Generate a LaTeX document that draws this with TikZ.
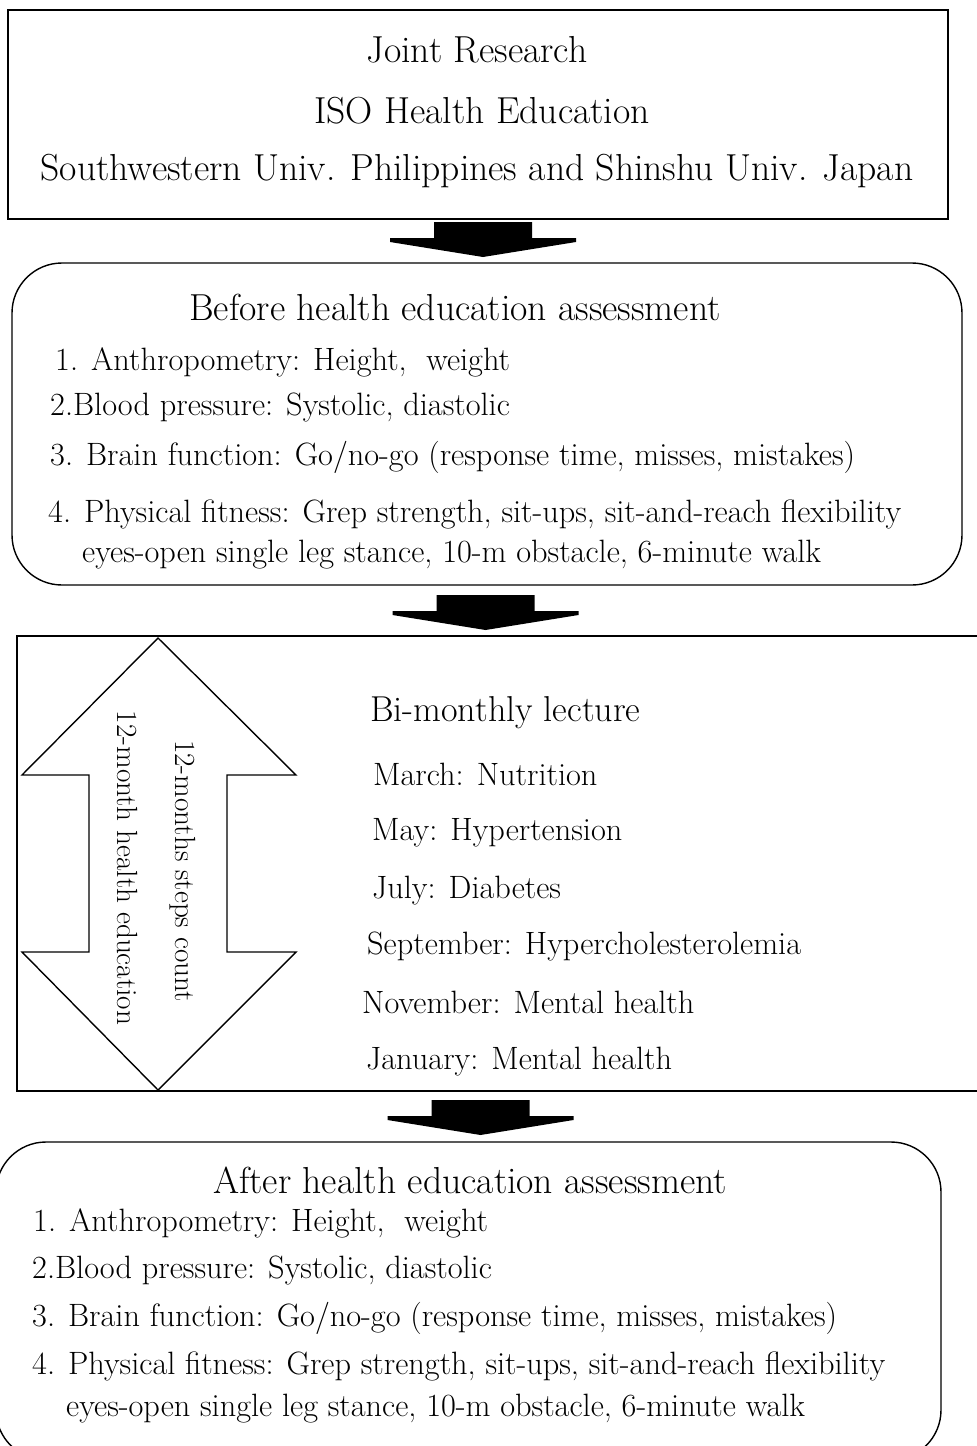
\documentclass[tikz,border=0pt]{standalone}
\newcommand{\blockdown}[1]{\fill[shift={#1}] (-49,0) -- (49,0) -- (49,16) -- (93,16) -- (93,20) -- (0,35) -- (-93,20) -- (-93,16) -- (-49,16) -- cycle;}
\begin{document}
\begin{tikzpicture}[x=1pt, y=-1pt,
          titlebox/.style={draw, line width=1.4pt, inner sep=0pt, minimum width=940pt, minimum height=209pt},
          roundbox/.style={draw, line width=1.4pt, inner sep=0pt, rounded corners=50pt},
          big/.style={inner sep=0pt, font=\fontsize{37.6}{44}\selectfont},
          item/.style={anchor=west, inner sep=0pt, font=\fontsize{32.3}{38}\selectfont},
          sidetext/.style={inner sep=0pt, rotate=-90, font=\fontsize{29.2}{34}\selectfont}]
        \useasboundingbox (0,0) rectangle (977,1446);
        % project box
        \node[titlebox] (project) at (478,114.5) {};
        \node[big] (joint) at (477,50) {Joint Research};
        \node[big] (iso) at (482,111) {ISO Health Education};
        \node[big] (univ) at (477,171) {Southwestern Univ. Philippines and Shinshu Univ. Japan};
        \blockdown{(483,222)}
        % before assessment
        \node[roundbox, minimum width=950pt, minimum height=322pt] (before) at (487,424) {};
        \node[big] (beforehead) at (455,307) {Before health education assessment};
        \node[item] (b1) at (55,362) {1. Anthropometry: Height,\ \ weight};
        \node[item] (b2) at (50,407) {2.Blood pressure: Systolic, diastolic};
        \node[item] (b3) at (50,457) {3. Brain function: Go/no-go (response time, misses, mistakes)};
        \node[item] (b4) at (48,514) {4. Physical fitness: Grep strength,\ sit-ups,\ sit-and-reach flexibility};
        \node[item] (b5) at (82,555) {eyes-open single leg stance, 10-m obstacle, 6-minute walk};
        \blockdown{(485.5,595)}
        % twelve months
        \draw[line width=2.4pt] (977,636) -| (17,1091) -- (977,1091);
        \draw[line width=1.4pt] (158,638) -- (296,775) -- (227,775) -- (227,952) -- (296,952) -- (158,1090)
          -- (22,952) -- (89,952) -- (89,775) -- (22,775) -- cycle;
        \node[sidetext] (steps) at (183,871) {12-months steps count};
        \node[sidetext] (months) at (128,868) {12-month health education};
        \node[big, anchor=west, font=\fontsize{36}{42}\selectfont] (lecture) at (370,713) {Bi-monthly lecture};
        \node[item] (mar) at (373,774) {March: Nutrition};
        \node[item] (may) at (372,833) {May: Hypertension};
        \node[item] (jul) at (372,891) {July: Diabetes};
        \node[item] (sep) at (367,946) {September: Hypercholesterolemia};
        \node[item] (nov) at (362,1002) {November: Mental health};
        \node[item] (jan) at (366,1062) {January: Mental health};
        \blockdown{(480.5,1100)}
        % after assessment
        \node[roundbox, minimum width=945pt, minimum height=318pt] (after) at (468.5,1301) {};
        \node[big] (afterhead) at (470,1180) {After health education assessment};
        \node[item] (a1) at (33,1223) {1. Anthropometry: Height,\ \ weight};
        \node[item] (a2) at (32,1270) {2.Blood pressure: Systolic, diastolic};
        \node[item] (a3) at (32,1318) {3. Brain function: Go/no-go (response time, misses, mistakes)};
        \node[item] (a4) at (32,1366) {4. Physical fitness: Grep strength,\ sit-ups,\ sit-and-reach flexibility};
        \node[item] (a5) at (66,1409) {eyes-open single leg stance, 10-m obstacle, 6-minute walk};
      \end{tikzpicture}
\end{document}
